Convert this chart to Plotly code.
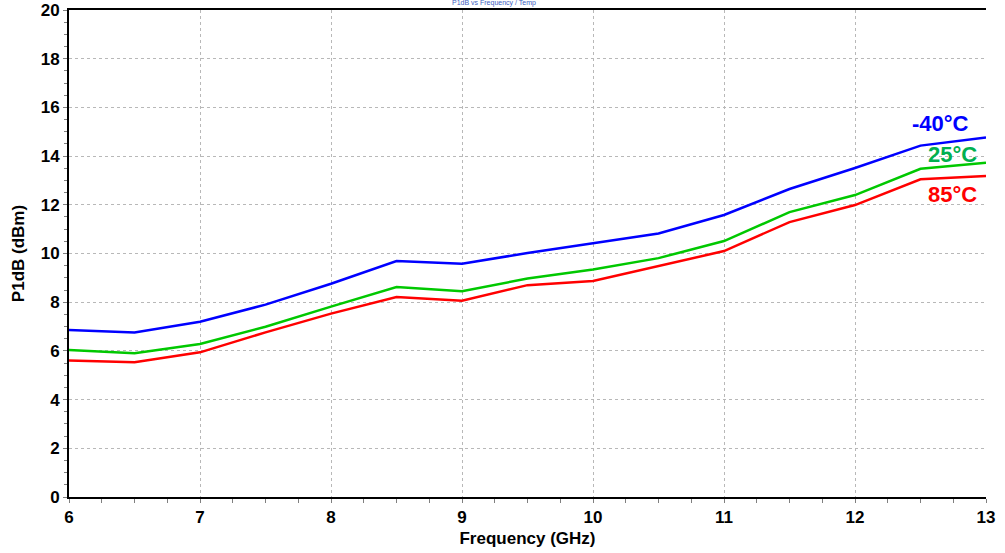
import plotly.graph_objects as go

freq = [6, 6.5, 7, 7.5, 8, 8.5, 9, 9.5, 10, 10.5, 11, 11.5, 12, 12.5, 13]
p1db_m40 = [6.86, 6.76, 7.20, 7.90, 8.76, 9.69, 9.58, 10.02, 10.42, 10.82, 11.58, 12.65, 13.51, 14.43, 14.76]
p1db_25 = [6.04, 5.90, 6.28, 6.99, 7.82, 8.62, 8.45, 8.97, 9.34, 9.81, 10.51, 11.70, 12.40, 13.48, 13.73]
p1db_85 = [5.61, 5.53, 5.94, 6.76, 7.53, 8.21, 8.06, 8.70, 8.87, 9.49, 10.10, 11.29, 11.99, 13.05, 13.18]

series = [
    ("-40°C", p1db_m40, "#0000FF", "#0000FF"),
    ("25°C", p1db_25, "#00C800", "#00B050"),
    ("85°C", p1db_85, "#FF0000", "#FF0000"),
]
label_pos = {"-40°C": (12.42, 15.35), "25°C": (12.54, 14.05), "85°C": (12.54, 12.42)}

FONT = "Liberation Sans, Arial, sans-serif"

fig = go.Figure()
for name, ys, lc, tc in series:
    fig.add_trace(go.Scatter(x=freq, y=ys, mode="lines", name=name,
                             line=dict(color=lc, width=2.5), showlegend=False))
    lx, ly = label_pos[name]
    fig.add_annotation(x=lx, y=ly, text=f"<b>{name}</b>", showarrow=False,
                       xanchor="left", yanchor="middle",
                       font=dict(family=FONT, size=22, color=tc))

fig.add_annotation(x=0.463, y=1.0, xref="paper", yref="paper", yshift=1,
                   text="P1dB vs Frequency / Temp", showarrow=False,
                   xanchor="center", yanchor="bottom",
                   font=dict(family=FONT, size=7, color="#4060C0"))

fig.update_layout(
    width=1005, height=553,
    margin=dict(l=69, r=19, t=10, b=56, autoexpand=False),
    paper_bgcolor="white", plot_bgcolor="white",
    font=dict(family=FONT, color="black"),
)
fig.update_xaxes(
    range=[6, 13], tickvals=list(range(6, 14)),
    ticktext=[f"<b>{v}</b>" for v in range(6, 14)],
    tickfont=dict(size=17, family=FONT, color="black"),
    showline=True, linecolor="black", linewidth=2, mirror=True,
    showgrid=True, gridcolor="#B8B8B8", griddash="dot", gridwidth=1,
    ticks="outside", ticklen=4, tickcolor="#808080",
    minor=dict(dtick=0.25, ticks="outside", ticklen=4, tickcolor="#808080", showgrid=False),
    title=dict(text="<b>Frequency (GHz)</b>", font=dict(size=17, family=FONT, color="black"), standoff=6),
    zeroline=False, automargin=False,
)
fig.update_yaxes(
    range=[0, 20], tickvals=list(range(0, 21, 2)),
    ticktext=[f"<b>{v}</b>" for v in range(0, 21, 2)],
    tickfont=dict(size=17, family=FONT, color="black"),
    showline=True, linecolor="black", linewidth=2,
    showgrid=True, gridcolor="#B8B8B8", griddash="dot", gridwidth=1,
    ticks="outside", ticklen=4, tickcolor="#808080",
    minor=dict(dtick=0.5, ticks="outside", ticklen=3, tickcolor="#808080", showgrid=False),
    title=dict(text="<b>P1dB (dBm)</b>", font=dict(size=17, family=FONT, color="black"), standoff=12),
    zeroline=False, automargin=False,
)
fig.write_html("out.html", config={"displayModeBar": False},
               post_script="document.body.style.margin='0';document.body.style.overflow='hidden';")
